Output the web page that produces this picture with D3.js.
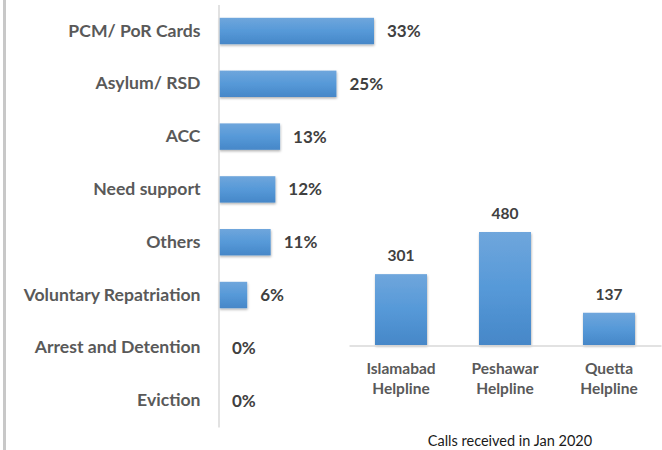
<!DOCTYPE html>
<html>
<head>
<meta charset="utf-8">
<script src="https://cdn.jsdelivr.net/npm/d3@7"></script>
<style>
  html, body { margin: 0; padding: 0; background: #fff; }
  svg { display: block; }
  text { font-family: Lato, "Open Sans", sans-serif; }
</style>
</head>
<body>
<svg id="chart" width="662" height="450"></svg>
<script>
// Left chart: reasons for calls (%)
const reasons = ["PCM/ PoR Cards", "Asylum/ RSD", "ACC", "Need support", "Others", "Voluntary Repatriation", "Arrest and Detention", "Eviction"];
const reasonShares = [33, 25, 13, 12, 11, 6, 0, 0];

// Right chart: calls per helpline
const helplines = [["Islamabad", "Helpline"], ["Peshawar", "Helpline"], ["Quetta", "Helpline"]];
const helplineCalls = [301, 480, 137];
const helplineTitle = "Calls received in Jan 2020";

const svg = d3.select("#chart");

// defs: gradient + shadow
const defs = svg.append("defs");
const gradH = defs.append("linearGradient").attr("id", "gradH").attr("x1", 0).attr("y1", 0).attr("x2", 0).attr("y2", 1);
gradH.append("stop").attr("offset", "0%").attr("stop-color", "#6fa6dc");
gradH.append("stop").attr("offset", "50%").attr("stop-color", "#5699d8");
gradH.append("stop").attr("offset", "100%").attr("stop-color", "#4687c8");
const shadow = defs.append("filter").attr("id", "shadow").attr("x", "-20%").attr("y", "-20%").attr("width", "140%").attr("height", "150%");
shadow.append("feDropShadow").attr("dx", 0.5).attr("dy", 1.5).attr("stdDeviation", 1.3).attr("flood-color", "#000").attr("flood-opacity", 0.3);

// outer left border
svg.append("line").attr("x1", 4.5).attr("x2", 4.5).attr("y1", 0).attr("y2", 450)
  .attr("stroke", "#c8c8c8").attr("stroke-width", 3);

// ---- Left horizontal bar chart ----
const x1 = d3.scaleLinear().domain([0, 33]).range([219, 374]);
const y1 = d3.scaleBand().domain(reasons).range([4.6, 427]).paddingInner(0.5).paddingOuter(0.25);

const left = svg.append("g");
left.selectAll("rect.bar").data(reasons).join("rect")
  .attr("class", "bar")
  .attr("x", x1(0))
  .attr("y", d => y1(d))
  .attr("width", (d, i) => x1(reasonShares[i]) - x1(0))
  .attr("height", y1.bandwidth())
  .attr("fill", "url(#gradH)")
  .attr("filter", "url(#shadow)");

const yAxis1 = d3.axisLeft(y1).tickSize(0).tickPadding(18);
const gy1 = left.append("g").attr("transform", `translate(${x1(0) - 0.5},0)`).call(yAxis1);
gy1.select(".domain").attr("stroke", "#d9d9d9").attr("stroke-width", 1.5);
gy1.selectAll(".tick text")
  .attr("fill", "#595959").attr("font-size", 17.6).attr("font-weight", "bold")
  .style("font-family", "Lato, sans-serif");

left.selectAll("text.val").data(reasons).join("text")
  .attr("class", "val")
  .attr("x", (d, i) => x1(reasonShares[i]) + 13)
  .attr("y", d => y1(d) + y1.bandwidth() / 2)
  .attr("dy", "0.35em")
  .attr("fill", "#404040").attr("font-size", 17).attr("font-weight", "bold")
  .text((d, i) => reasonShares[i] + "%");

// ---- Right vertical bar chart ----
const idx = helplines.map((d, i) => i);
const x2 = d3.scaleBand().domain(idx).range([349, 661]).paddingInner(0.5).paddingOuter(0.25);
const y2 = d3.scaleLinear().domain([0, 480]).range([345, 232]);

const right = svg.append("g");
right.selectAll("rect.bar").data(idx).join("rect")
  .attr("class", "bar")
  .attr("x", d => x2(d))
  .attr("y", d => y2(helplineCalls[d]))
  .attr("width", x2.bandwidth())
  .attr("height", d => y2(0) - y2(helplineCalls[d]))
  .attr("fill", "url(#gradH)")
  .attr("filter", "url(#shadow)");

const xAxis2 = d3.axisBottom(x2).tickSize(0).tickFormat(() => "");
const gx2 = right.append("g").attr("transform", `translate(0,${y2(0) + 0.5})`).call(xAxis2);
gx2.select(".domain").attr("stroke", "#d9d9d9").attr("stroke-width", 1.5);
gx2.selectAll(".tick text").remove();
gx2.selectAll(".tick").each(function(d) {
  const t = d3.select(this).append("text")
    .attr("text-anchor", "middle")
    .attr("fill", "#595959").attr("font-size", 15.5).attr("font-weight", "bold");
  helplines[d].forEach((line, j) => {
    t.append("tspan").attr("x", 0).attr("y", 28 + j * 20).text(line);
  });
});

right.selectAll("text.val").data(idx).join("text")
  .attr("class", "val")
  .attr("x", d => x2(d) + x2.bandwidth() / 2)
  .attr("y", d => y2(helplineCalls[d]) - 13)
  .attr("text-anchor", "middle")
  .attr("fill", "#404040").attr("font-size", 15.5).attr("font-weight", "bold")
  .text(d => helplineCalls[d]);

right.append("text")
  .attr("x", 510).attr("y", 446)
  .attr("text-anchor", "middle")
  .attr("fill", "#1a1a1a").attr("font-size", 14.5)
  .text(helplineTitle);
</script>
</body>
</html>
